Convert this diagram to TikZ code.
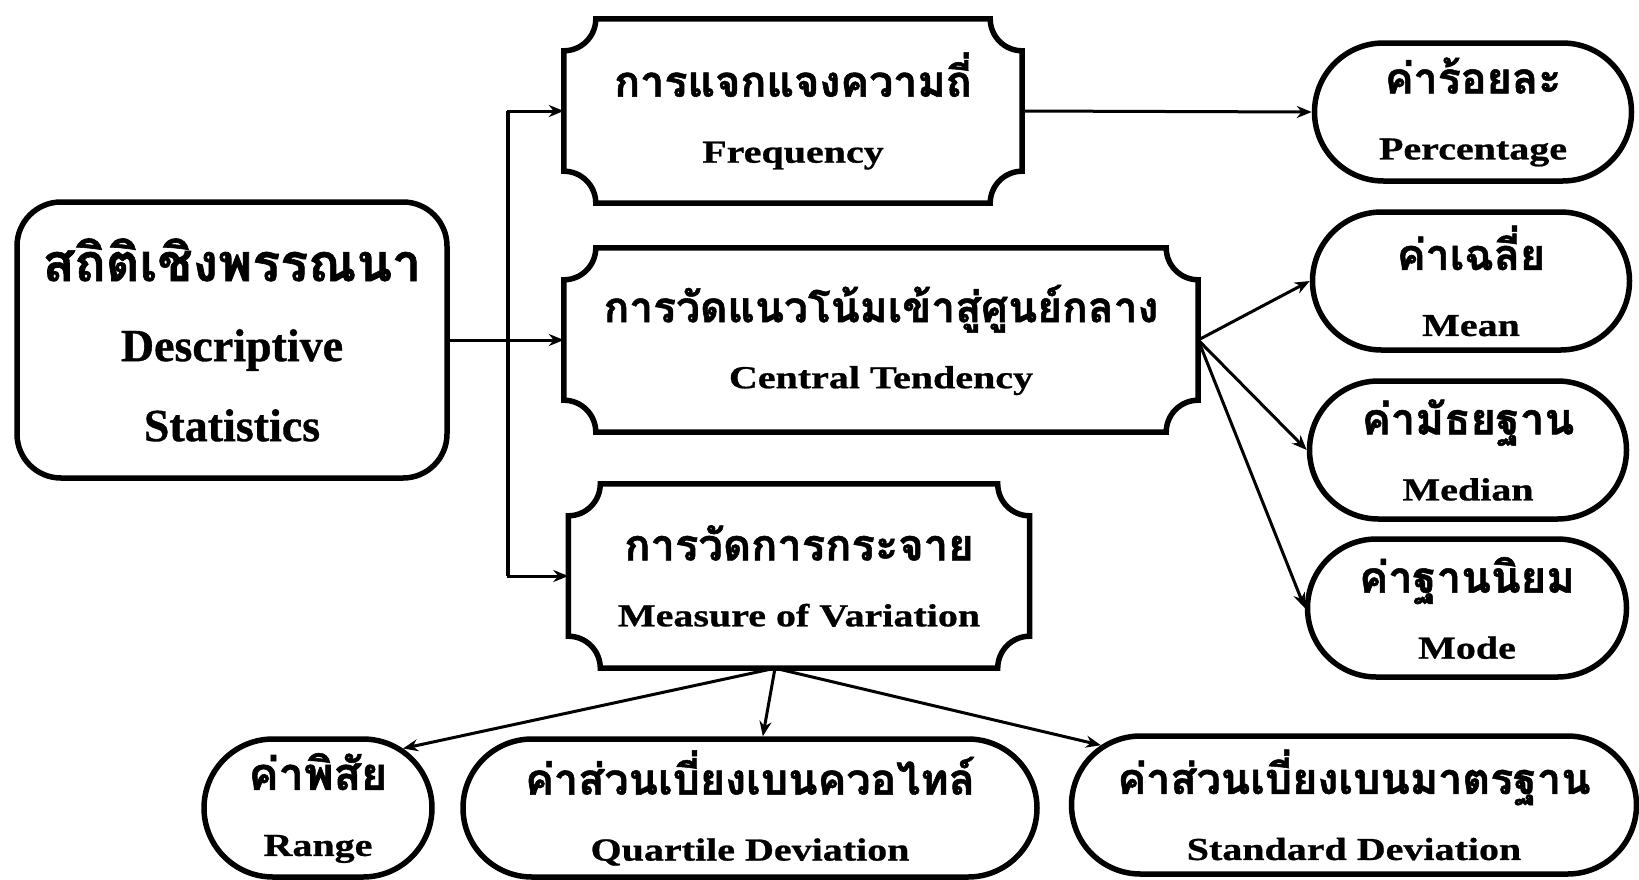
\documentclass[tikz,border=0pt]{standalone}
\usepackage{fontspec}
\setmainfont{Liberation Serif}[FakeStretch=1.25, FakeBold=0.8]
\newfontfamily\rootfont{Liberation Serif}[FakeBold=0.8]
\newfontfamily\thai[Script=Thai, FakeBold=1.2]{Loma}
\usetikzlibrary{
  arrows.meta,
  shapes.misc
}

\tikzset{
  frame/.style={line width=5.5pt},
  plaque/.style={align=center, minimum width=#1, minimum height=184pt,
    append after command={\pgfextra{
      \draw[frame]
      ([yshift=-32pt]\tikzlastnode.north west) arc[start angle=-90, end angle=0, radius=32pt]
      -- ([xshift=-32pt]\tikzlastnode.north east) arc[start angle=180, end angle=270, radius=32pt]
      -- ([yshift=32pt]\tikzlastnode.south east) arc[start angle=90, end angle=180, radius=32pt]
      -- ([xshift=32pt]\tikzlastnode.south west) arc[start angle=0, end angle=90, radius=32pt]
      -- cycle;}}},
  oval/.style={frame, draw, rounded rectangle, align=center,
    minimum width=#1, minimum height=138pt, inner sep=0pt},
  arr/.style={line width=3pt, -{Stealth[length=15pt, width=12pt]}}
}

\begin{document}
\begin{tikzpicture}[font=\bfseries\fontsize{32}{66}\selectfont]
  \useasboundingbox[fill=white] (0,0) rectangle (1639pt,-879pt);

  % root
  \node[frame, draw, rounded corners=44pt, align=center, minimum width=430pt,
    minimum height=276pt, font=\rootfont\bfseries\fontsize{46}{80}\selectfont] (root)
  at (232pt,-340pt) {{\thai\fontsize{52}{80}\selectfont สถิติเชิงพรรณนา}\\Descriptive\\Statistics};

  % middle column
  \node[plaque=458pt] (freq) at (793pt,-111pt)
  {{\thai\fontsize{43}{66}\selectfont การแจกแจงความถี่}\\Frequency};
  \node[plaque=634pt] (central) at (881pt,-340pt)
  {{\thai\fontsize{42.5}{66}\selectfont การวัดแนวโน้มเข้าสู่ศูนย์กลาง}\\Central Tendency};
  \node[plaque=461pt] (spread) at (799pt,-576pt)
  {{\thai\fontsize{43.5}{66}\selectfont การวัดการกระจาย}\\Measure of Variation};

  % right column
  \node[oval=317pt] (pct) at (1473pt,-112pt)
  {{\thai\fontsize{43}{68}\selectfont ค่าร้อยละ}\\Percentage};
  \node[oval=317pt] (mean) at (1471pt,-281pt)
  {{\thai\fontsize{43}{68}\selectfont ค่าเฉลี่ย}\\Mean};
  \node[oval=317pt] (median) at (1468pt,-450pt)
  {{\thai\fontsize{43.5}{68}\selectfont ค่ามัธยฐาน}\\Median};
  \node[oval=319pt] (mode) at (1467pt,-608pt)
  {{\thai\fontsize{43.5}{68}\selectfont ค่าฐานนิยม}\\Mode};

  % bottom row
  \node[oval=228pt] (range) at (318pt,-808pt)
  {{\thai\fontsize{45}{68}\selectfont ค่าพิสัย}\\Range};
  \node[oval=574pt] (quart) at (750pt,-808pt)
  {{\thai\fontsize{43}{68}\selectfont ค่าส่วนเบี่ยงเบนควอไทล์}\\Quartile Deviation};
  \node[oval=565pt] (std) at (1354pt,-805pt)
  {{\thai\fontsize{43}{68}\selectfont ค่าส่วนเบี่ยงเบนมาตรฐาน}\\Standard Deviation};

  % connectors
  \coordinate (fork) at (508pt,-340pt);
  \coordinate (foot) at ([xshift=-24pt]spread.south);
  \draw[arr] (root.east) -- (central.west);
  \draw[arr] (fork) |- (freq.west);
  \draw[arr] (fork) |- (spread.west);
  \draw[line width=4.5pt] (fork |- freq.west) -- (fork |- spread.west);
  \draw[arr] (freq.east) -- (pct.west);
  \foreach \n in {mean,median,mode} {
      \draw[arr] (central.east) -- (\n.west);
    }
  \draw[arr] (foot) -- (range.35);
  \draw[arr] (foot) -- (quart);
  \draw[arr] (foot) -- (std);
\end{tikzpicture}
\end{document}
